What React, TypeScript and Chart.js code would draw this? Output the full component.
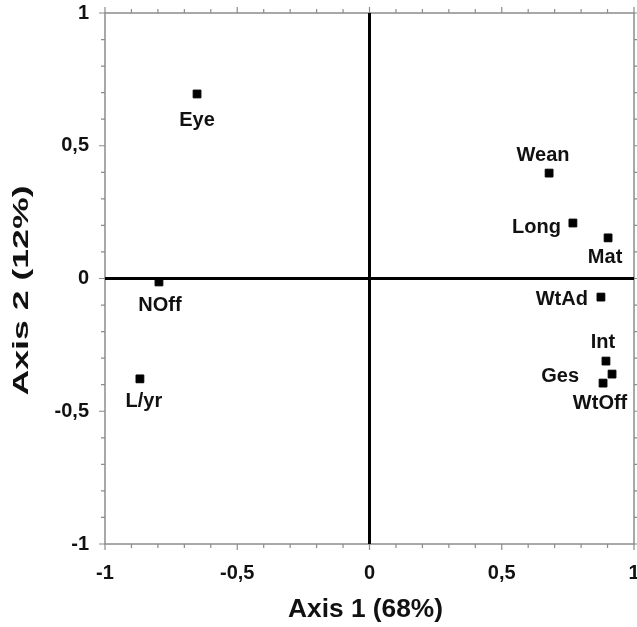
import { useEffect, useRef } from "react";
import { Chart, registerables } from "chart.js";
Chart.register(...registerables);

const VARIABLES = ["Eye", "Wean", "Long", "Mat", "WtAd", "Int", "Ges", "WtOff", "NOff", "L/yr"];
const AXIS1 = [-0.652, 0.679, 0.769, 0.902, 0.875, 0.894, 0.917, 0.883, -0.796, -0.868];
const AXIS2 = [0.695, 0.397, 0.209, 0.153, -0.07, -0.311, -0.36, -0.394, -0.013, -0.378];
const AXIS_MIN = -1;
const AXIS_MAX = 1;
const MAJOR_STEP = 0.5;
const X_TITLE = "Axis 1 (68%)";
const Y_TITLE = "Axis 2 (12%)";

// label placement style: [dx, dy, align]
const LABEL_PLACEMENT: [number, number, CanvasTextAlign][] = [
  [0, 27, "center"],
  [-6, -18, "center"],
  [-12, 4, "right"],
  [-3, 20, "center"],
  [-13, 2, "right"],
  [-3, -19, "center"],
  [-33, 2, "right"],
  [-3, 20, "center"],
  [1, 24, "center"],
  [4, 23, "center"],
];

const FONT = "'Liberation Sans', Arial, Helvetica, sans-serif";
const fmt = (v: number) => {
  if (Math.abs(v) < 1e-9) return "0";
  return String(v).replace(".", ",");
};

const framePlugin = {
  id: "frame",
  beforeDatasetsDraw(chart: any) {
    const { ctx, chartArea: a, scales } = chart;
    const xs = scales.x;
    const ys = scales.y;
    ctx.save();
    ctx.strokeStyle = "#8c8c8c";
    ctx.lineWidth = 1.5;
    ctx.strokeRect(a.left, a.top, a.right - a.left, a.bottom - a.top);
    ctx.lineWidth = 1.2;
    ctx.beginPath();
    for (let i = -10; i <= 10; i++) {
      const v = i / 10;
      const len = i % 5 === 0 ? 6 : 4;
      const px = xs.getPixelForValue(v);
      const py = ys.getPixelForValue(v);
      ctx.moveTo(px, a.bottom);
      ctx.lineTo(px, a.bottom + len);
      ctx.moveTo(px, a.top);
      ctx.lineTo(px, a.top - len);
      ctx.moveTo(a.left, py);
      ctx.lineTo(a.left - len, py);
      ctx.moveTo(a.right, py);
      ctx.lineTo(a.right + len, py);
    }
    ctx.stroke();
    ctx.strokeStyle = "#000";
    ctx.lineWidth = 3;
    ctx.beginPath();
    const x0 = xs.getPixelForValue(0);
    const y0 = ys.getPixelForValue(0);
    ctx.moveTo(x0, a.top);
    ctx.lineTo(x0, a.bottom);
    ctx.moveTo(a.left, y0);
    ctx.lineTo(a.right, y0);
    ctx.stroke();
    ctx.restore();
  },
  afterDatasetsDraw(chart: any) {
    const { ctx } = chart;
    const meta = chart.getDatasetMeta(0);
    ctx.save();
    ctx.fillStyle = "#111";
    ctx.font = `bold 20px ${FONT}`;
    ctx.textBaseline = "middle";
    meta.data.forEach((el: any, i: number) => {
      const [dx, dy, align] = LABEL_PLACEMENT[i];
      ctx.textAlign = align;
      ctx.fillText(VARIABLES[i], el.x + dx, el.y + dy);
    });
    // axis titles (stretched like the original)
    const a = chart.chartArea;
    ctx.textAlign = "center";
    ctx.font = `bold 25px ${FONT}`;
    const wx = ctx.measureText(X_TITLE).width;
    ctx.save();
    ctx.translate((a.left + a.right) / 2 - 4, 610);
    ctx.scale(155 / wx, 1);
    ctx.fillText(X_TITLE, 0, 0);
    ctx.restore();
    ctx.font = `bold 22px ${FONT}`;
    const wy = ctx.measureText(Y_TITLE).width;
    ctx.save();
    ctx.translate(22, (a.top + a.bottom) / 2 + 12);
    ctx.rotate(-Math.PI / 2);
    ctx.scale(210 / wy, 1);
    ctx.fillText(Y_TITLE, 0, 0);
    ctx.restore();
    ctx.restore();
  },
};

export default function App() {
  const ref = useRef<HTMLCanvasElement | null>(null);
  useEffect(() => {
    if (!ref.current) return;
    const chart = new Chart(ref.current, {
      type: "scatter",
      data: {
        datasets: [
          {
            label: "Variables",
            data: AXIS1.map((x, i) => ({ x, y: AXIS2[i] })),
            pointStyle: "rect",
            pointRadius: 5.5,
            pointHoverRadius: 5.5,
            backgroundColor: "#000",
            borderColor: "#000",
            borderWidth: 1,
          },
        ],
      },
      options: {
        animation: false,
        responsive: false,
        maintainAspectRatio: false,
        layout: { autoPadding: false, padding: { top: 13, right: 3, left: 0, bottom: 0 } },
        plugins: { legend: { display: false }, tooltip: { enabled: false } },
        scales: {
          x: {
            type: "linear",
            min: AXIS_MIN,
            max: AXIS_MAX,
            grid: { display: false, drawTicks: false },
            border: { display: false },
            ticks: {
              stepSize: MAJOR_STEP,
              padding: 17,
              color: "#111",
              font: { family: FONT, size: 20, weight: "bold" },
              maxRotation: 0,
              callback: (v: any) => fmt(Number(v)),
            },
            afterFit: (s: any) => {
              s.height = 83;
              s.paddingLeft = 0;
              s.paddingRight = 0;
            },
          },
          y: {
            type: "linear",
            min: AXIS_MIN,
            max: AXIS_MAX,
            grid: { display: false, drawTicks: false },
            border: { display: false },
            ticks: {
              stepSize: MAJOR_STEP,
              padding: 16,
              color: "#111",
              font: { family: FONT, size: 20, weight: "bold" },
              callback: (v: any) => fmt(Number(v)),
            },
            afterFit: (s: any) => {
              s.width = 105;
              s.paddingTop = 0;
              s.paddingBottom = 0;
            },
          },
        },
      },
      plugins: [framePlugin],
    } as any);
    return () => chart.destroy();
  }, []);
  return (
    <div style={{ position: "fixed", left: 0, top: 0, width: 637, height: 627, background: "#fff" }}>
      <canvas ref={ref} width={637} height={627} style={{ display: "block" }} />
    </div>
  );
}
